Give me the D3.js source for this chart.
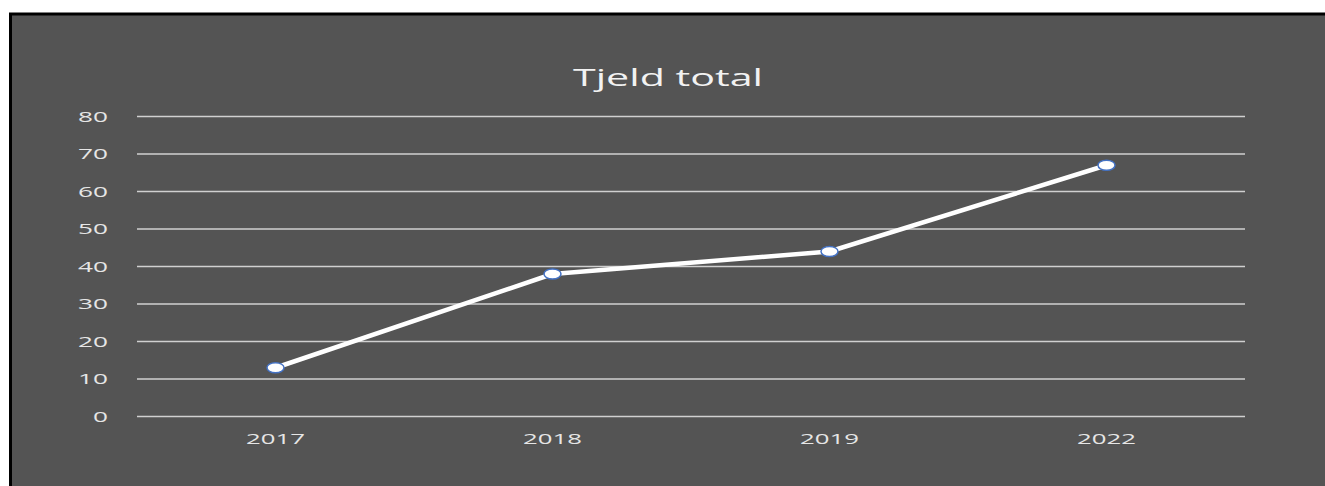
<!DOCTYPE html>
<html><head><meta charset="utf-8">
<script src="https://cdn.jsdelivr.net/npm/d3@7"></script>
<style>html,body{margin:0;padding:0;background:#fff;}svg{display:block;}</style>
</head><body>
<script>
const categories = ["2017", "2018", "2019", "2022"];
const values = [13, 38, 44, 67];
const yTicks = [0, 10, 20, 30, 40, 50, 60, 70, 80];
const title = "Tjeld total";

const W = 1325, H = 486;
const svg = d3.select("body").append("svg").attr("width", W).attr("height", H);

svg.append("rect").attr("x", 10.5).attr("y", 14).attr("width", W).attr("height", H)
  .attr("fill", "#545454").attr("stroke", "#000").attr("stroke-width", 3);

const x = d3.scaleBand().domain(categories).range([137, 1245]);
const y = d3.scaleLinear().domain([0, 80]).range([416.5, 116.5]);

const font = "'Open Sans', 'DejaVu Sans', sans-serif";

// gridlines
svg.append("g").selectAll("line").data(yTicks).join("line")
  .attr("x1", 137).attr("x2", 1245)
  .attr("y1", d => y(d)).attr("y2", d => y(d))
  .attr("stroke", "#d0d0d0").attr("stroke-width", 1.5);

// y labels
svg.append("g").selectAll("text").data(yTicks).join("text")
  .attr("x", 108).attr("y", d => y(d)).attr("dy", "0.36em")
  .attr("text-anchor", "end").attr("fill", "#e6e6e6")
  .attr("font-family", font).attr("font-size", 15)
  .attr("textLength", d => String(d).length * 15).attr("lengthAdjust", "spacingAndGlyphs")
  .text(d => d);

// x labels
svg.append("g").selectAll("text").data(categories).join("text")
  .attr("x", d => x(d) + x.bandwidth() / 2).attr("y", 444)
  .attr("text-anchor", "middle").attr("fill", "#e6e6e6")
  .attr("font-family", font).attr("font-size", 15)
  .attr("textLength", 59).attr("lengthAdjust", "spacingAndGlyphs")
  .text(d => d);

// title
svg.append("text").attr("x", 668).attr("y", 86).attr("text-anchor", "middle")
  .attr("fill", "#f2f2f2").attr("font-family", font).attr("font-size", 24)
  .attr("textLength", 190).attr("lengthAdjust", "spacingAndGlyphs")
  .text(title);

const data = categories.map((c, i) => ({c, v: values[i]}));
const line = d3.line().x(d => x(d.c) + x.bandwidth() / 2).y(d => y(d.v));
svg.append("path").datum(data).attr("d", line)
  .attr("fill", "none").attr("stroke", "#fff").attr("stroke-width", 4.5)
  .attr("stroke-linejoin", "round");

svg.append("g").selectAll("ellipse").data(data).join("ellipse")
  .attr("cx", d => x(d.c) + x.bandwidth() / 2).attr("cy", d => y(d.v))
  .attr("rx", 8.5).attr("ry", 5)
  .attr("fill", "#fff").attr("stroke", "#4472c4").attr("stroke-width", 1.5);
</script>
</body></html>
